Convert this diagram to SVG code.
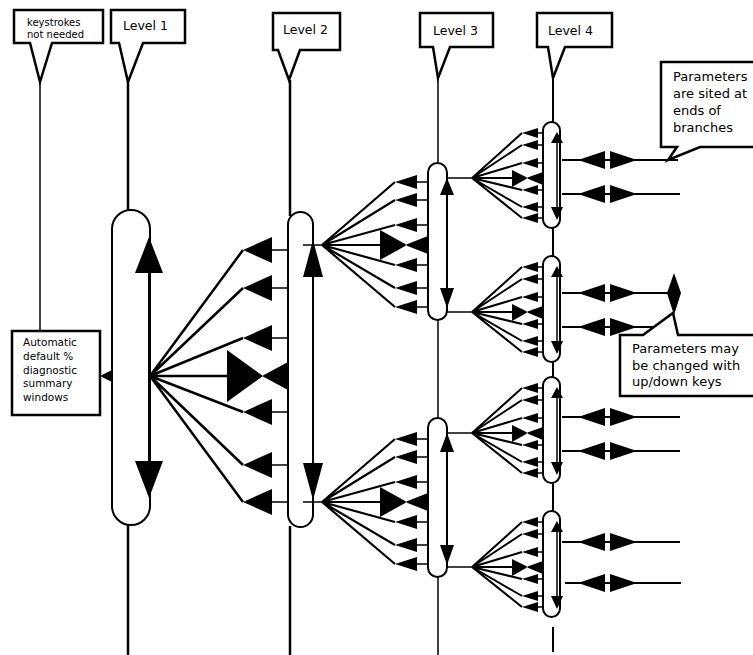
<svg xmlns="http://www.w3.org/2000/svg" width="753" height="655" viewBox="0 0 753 655">
<style>
.co{fill:#fff;stroke:#000;stroke-width:2.5;stroke-linejoin:miter}
.cap{fill:#fff;stroke:#000;stroke-width:2}
.ln{stroke:#000;fill:none}
.ah{fill:#000;stroke:none}
text{font-family:"DejaVu Sans","Liberation Sans",sans-serif;fill:#000}
.t10{font-size:10px}
.t105{font-size:10.5px}
.t12{font-size:12.5px}
.t13{font-size:13px}
</style>
<defs>
<g id="fan2">
<path class="ln" stroke-width="1.5" d="M-19,0H0"/>
<path class="ln" stroke-width="2.2" d="M0,0L73,-63M0,0L73,-45M0,0L73,-20M0,0L58,0M0,0L73,20M0,0L73,43M0,0L73,62"/>
<path class="ln" stroke-width="1.5" d="M95,-63H106M95,-45H106M95,-20H106M95,20H106M95,43H106M95,62H106"/>
<path class="ah" d="M73,-63L95,-70L95,-56ZM73,-45L95,-52L95,-38ZM73,-20L95,-27L95,-13ZM73,20L95,13L95,27ZM73,43L95,36L95,50ZM73,62L95,55L95,69Z"/>
<path class="ah" d="M58,-15L58,15L85,0ZM83,0L106,-9L106,9Z"/>
</g>
<g id="fan3">
<path class="ln" stroke-width="1.5" d="M-25,0H0"/>
<path class="ln" stroke-width="2" d="M0,0L50,-45M0,0L50,-33M0,0L50,-15M0,0L40,0M0,0L50,12M0,0L50,29M0,0L50,40"/>
<path class="ln" stroke-width="1.3" d="M66,-45H71M66,-33H71M66,-15H71M66,12H71M66,29H71M66,40H71"/>
<path class="ah" d="M50,-45L66,-50L66,-40ZM50,-33L66,-38L66,-28ZM50,-15L66,-20L66,-10ZM50,12L66,7L66,17ZM50,29L66,24L66,34ZM50,40L66,35L66,45Z"/>
<path class="ah" d="M40,-8L40,9L56,0ZM54,0L71,-6L71,7Z"/>
</g>
<g id="cap4">
<rect class="cap" x="543" y="0" width="17" height="106" rx="8.5"/>
<path class="ln" stroke-width="1.5" d="M557,12V96"/>
<path class="ah" d="M557,10L551,21L563,21ZM551,85L563,85L557,98Z"/>
</g>
<path id="pp" class="ah" d="M578,0L605,-9L605,9ZM610,-9L610,9L637,0Z"/>
</defs>
<rect width="753" height="655" fill="#fff"/>

<!-- callouts -->
<g id="note-keystrokes">
<path class="co" d="M30,43L14,43L14,10L103,10L103,43L52,43L40,82Z"/>
<text class="t10" x="27" y="26">keystrokes</text>
<text class="t10" x="27" y="38">not needed</text>
</g>
<g id="label-level1">
<path class="co" d="M119,43L111,43L111,10L185,10L185,43L143,43L128,82Z"/>
<text class="t12" x="123" y="30">Level 1</text>
</g>
<g id="label-level2">
<path class="co" d="M278,50L273,50L273,13L340,13L340,50L300,50L289,80Z"/>
<text class="t12" x="283" y="34">Level 2</text>
</g>
<g id="label-level3">
<path class="co" d="M433,47L420,47L420,13L493,13L493,47L450,47L438,78Z"/>
<text class="t12" x="433" y="35">Level 3</text>
</g>
<g id="label-level4">
<path class="co" d="M548,47L537,47L537,13L612,13L612,47L565,47L553,78Z"/>
<text class="t12" x="548" y="35">Level 4</text>
</g>
<g id="note-sited">
<path class="co" d="M677,147L661,147L661,62L758,62L758,147L700,147L668,160Z"/>
<text class="t13" x="673" y="81">Parameters</text>
<text class="t13" x="673" y="98">are sited at</text>
<text class="t13" x="673" y="115">ends of</text>
<text class="t13" x="673" y="132">branches</text>
</g>
<g id="note-updown">
<path class="co" d="M643,335L620,335L620,396L758,396L758,335L678,335L673,313Z"/>
<text class="t13" x="632" y="353">Parameters may</text>
<text class="t13" x="632" y="370">be changed with</text>
<text class="t13" x="632" y="386">up/down keys</text>
</g>
<g id="note-automatic">
<rect class="co" x="12" y="331" width="88" height="84"/>
<text class="t105" x="23" y="346">Automatic</text>
<text class="t105" x="23" y="360">default %</text>
<text class="t105" x="23" y="374">diagnostic</text>
<text class="t105" x="23" y="387">summary</text>
<text class="t105" x="23" y="401">windows</text>
</g>

<!-- nodes -->
<g id="level1">
<rect class="cap" x="112" y="210" width="38" height="315" rx="19"/>
</g>
<g id="level2">
<rect class="cap" x="288" y="212" width="25" height="315" rx="12.5"/>
</g>
<g id="level3a">
<rect class="cap" x="428" y="163" width="19" height="157" rx="9.5"/>
</g>
<g id="level3b">
<rect class="cap" x="428" y="418" width="19" height="159" rx="9.5"/>
</g>
<g id="level4a"><use href="#cap4" y="122"/></g>
<g id="level4b"><use href="#cap4" y="256"/></g>
<g id="level4c"><use href="#cap4" y="377"/></g>
<g id="level4d"><use href="#cap4" y="511"/></g>

<!-- connectors -->
<g id="connectors">
<path class="ln" stroke-width="1.5" d="M40,82V331"/>
<path class="ln" stroke-width="2.5" d="M128,82V211M128,525V655"/>
<path class="ln" stroke-width="2.5" d="M290,80V216M290,526V655"/>
<path class="ln" stroke-width="1.5" d="M438,78V163M438,320V418M438,577V655"/>
<path class="ln" stroke-width="2" d="M553,78V122M553,228V256M553,362V377M553,483V511M553,627V652"/>

<path class="ln" stroke-width="2" d="M149,240V495"/>
<path class="ah" d="M149,237L135,273L163,273ZM135,461L163,461L149,498Z"/>
<path class="ah" d="M100,376L112,370L112,382Z"/>

<path class="ln" stroke-width="2" d="M313,243V497"/>
<path class="ah" d="M313,240L303,277L323,277ZM303,463L323,463L313,500Z"/>

<path class="ln" stroke-width="1.6" d="M447,180V306M447,435V563"/>
<path class="ah" d="M447,178L440,195L454,195ZM440,288L454,288L447,308Z"/>
<path class="ah" d="M447,433L440,452L454,452ZM440,545L454,545L447,565Z"/>

<path class="ln" stroke-width="2.5" d="M150,376L243,250M150,376L243,288M150,376L243,338M150,376L227,376M150,376L243,412M150,376L243,465M150,376L243,502"/>
<path class="ln" stroke-width="1.5" d="M272,250H288M272,288H288M272,338H288M272,412H288M272,465H288M272,502H288"/>
<path class="ah" d="M243,250L272,237L272,263ZM243,288L272,275L272,301ZM243,338L272,325L272,351ZM243,412L272,399L272,425ZM243,465L272,452L272,478ZM243,502L272,489L272,515Z"/>
<path class="ah" d="M227,350L227,402L263,376ZM262,376L288,362L288,390Z"/>

<use href="#fan2" transform="translate(322,245)"/>
<use href="#fan2" transform="translate(322,502)"/>

<use href="#fan3" transform="translate(472,178)"/>
<use href="#fan3" transform="translate(472,312)"/>
<use href="#fan3" transform="translate(472,433)"/>
<use href="#fan3" transform="translate(472,567)"/>

<path class="ln" stroke-width="2" d="M562,160H678M562,194H680M562,293H678M562,327H654M562,417H680M562,451H680M562,542H680M565,583H681"/>
<use href="#pp" y="160"/>
<use href="#pp" y="194"/>
<use href="#pp" y="293"/>
<use href="#pp" y="327"/>
<use href="#pp" y="417"/>
<use href="#pp" y="451"/>
<use href="#pp" y="542"/>
<use href="#pp" y="583"/>
<path class="ah" d="M674,273L667,293L681,293ZM667,293L681,293L674,315Z"/>
</g>
</svg>
